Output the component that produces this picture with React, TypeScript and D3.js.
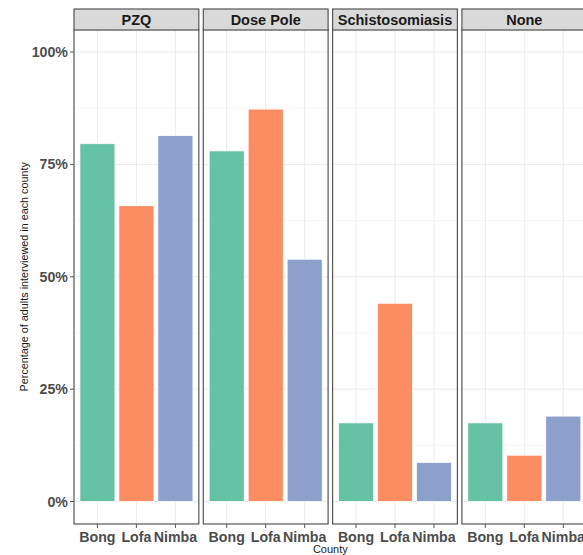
import React from "react";
import * as d3 from "d3";

const panels = ["PZQ", "Dose Pole", "Schistosomiasis", "None"];
const counties = ["Bong", "Lofa", "Nimba"];
const pzqValues = [0.796, 0.658, 0.814];
const dosePoleValues = [0.78, 0.873, 0.539];
const schistoValues = [0.175, 0.441, 0.087];
const noneValues = [0.175, 0.103, 0.19];
const yTicks = [0, 0.25, 0.5, 0.75, 1];
const yMinor = [0.125, 0.375, 0.625, 0.875];
const colors = ["#66C2A5", "#FC8D62", "#8DA0CB"];

const panelValues = [pzqValues, dosePoleValues, schistoValues, noneValues];

export default function App() {
  const W = 583, H = 555;
  const left = 74, step = 129.3, pw = 124.8;
  const stripTop = 9, stripH = 21;
  const y = d3.scaleLinear().domain([0, 1]).range([501.5, 52]);
  const pTop = y(1.05), pBot = y(-0.05);
  const font = "Liberation Sans, Arial, sans-serif";

  return (
    <svg width={W} height={H} style={{ position: "absolute", left: 0, top: 0, background: "#fff" }} fontFamily={font}>
      {panels.map((p, i) => {
        const x0 = left + i * step;
        const xc = d3.scalePoint().domain(counties).range([x0 + 0.6 * pw / 3.2, x0 + pw - 0.6 * pw / 3.2]);
        const bw = 0.9 * pw / 3.2;
        return (
          <g key={p}>
            <rect x={x0} y={pTop} width={pw} height={pBot - pTop} fill="#fff" />
            {yMinor.map(t => (
              <line key={"m" + t} x1={x0} x2={x0 + pw} y1={y(t)} y2={y(t)} stroke="#f2f2f2" strokeWidth={0.6} />
            ))}
            {yTicks.map(t => (
              <line key={"g" + t} x1={x0} x2={x0 + pw} y1={y(t)} y2={y(t)} stroke="#ebebeb" strokeWidth={1} />
            ))}
            {counties.map(c => (
              <line key={"v" + c} x1={xc(c)!} x2={xc(c)!} y1={pTop} y2={pBot} stroke="#ebebeb" strokeWidth={1} />
            ))}
            {counties.map((c, j) => (
              <rect key={"b" + c} x={xc(c)! - bw / 2} y={y(panelValues[i][j])} width={bw}
                height={y(0) - y(panelValues[i][j])} fill={colors[j]} stroke="#ffffff" strokeWidth={0.8} />
            ))}
            <rect x={x0} y={pTop} width={pw} height={pBot - pTop} fill="none" stroke="#555" strokeWidth={1.2} />
            <rect x={x0} y={stripTop} width={pw} height={stripH} fill="#d9d9d9" stroke="#555" strokeWidth={1.2} />
            <text x={x0 + pw / 2} y={stripTop + stripH / 2 + 5} textAnchor="middle" fontSize={14.5} fontWeight="bold" fill="#1a1a1a">{p}</text>
            {counties.map(c => (
              <g key={"t" + c}>
                <line x1={xc(c)!} x2={xc(c)!} y1={pBot} y2={pBot + 4} stroke="#555" strokeWidth={1} />
                <text x={xc(c)!} y={541.5} textAnchor="middle" fontSize={14.2} fontWeight="bold" fill="#4d4d4d">{c}</text>
              </g>
            ))}
          </g>
        );
      })}
      {yTicks.map(t => (
        <g key={"yt" + t}>
          <line x1={left - 4} x2={left} y1={y(t)} y2={y(t)} stroke="#555" strokeWidth={1} />
          <text x={left - 6} y={y(t) + 5} textAnchor="end" fontSize={14.2} fontWeight="bold" fill="#4d4d4d">{d3.format(".0%")(t)}</text>
        </g>
      ))}
      <text transform={`translate(28,${(pTop + pBot) / 2}) rotate(-90)`} textAnchor="middle" fontSize={10.8} fill="#1a1a1a">Percentage of adults interviewed in each county</text>
      <text x={left + (3 * step + pw) / 2} y={553} textAnchor="middle" fontSize={11} fill="#1a1a1a">County</text>
    </svg>
  );
}
